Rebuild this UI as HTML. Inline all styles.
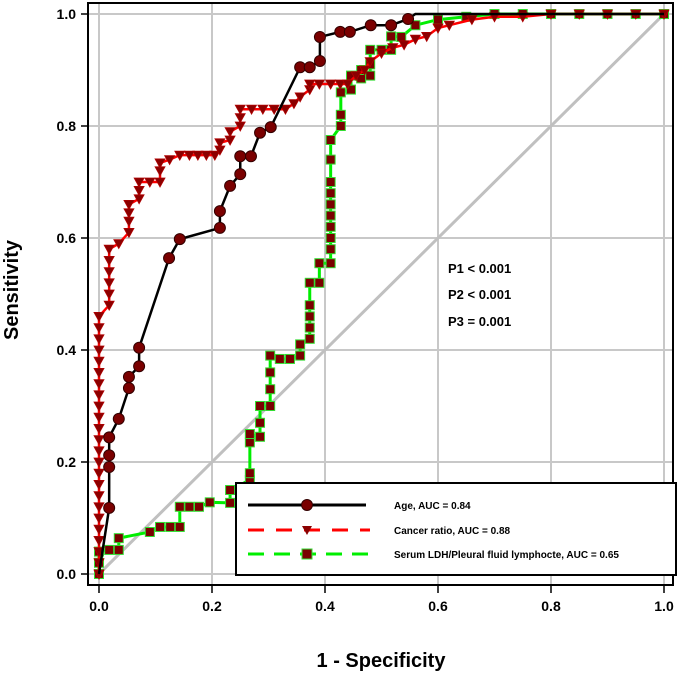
<!DOCTYPE html>
<html><head><meta charset="utf-8"><style>
body{margin:0;background:#fff;}
svg text{font-family:"Liberation Sans",Arial,sans-serif;font-weight:bold;}
</style></head><body>
<svg id="chart" width="685" height="677" xmlns="http://www.w3.org/2000/svg"></svg>
<script>
const xTicks=[0,0.2,0.4,0.6,0.8,1.0];
const yTicks=[0,0.2,0.4,0.6,0.8,1.0];
const tickLabels=["0.0","0.2","0.4","0.6","0.8","1.0"];
const ageX=[0,0.018,0.018,0.018,0.018,0.035,0.053,0.053,0.071,0.071,0.124,0.143,0.214,0.214,0.232,0.25,0.25,0.269,0.285,0.304,0.356,0.373,0.391,0.391,0.427,0.444,0.481,0.517,0.547,0.56,0.6,1.0];
const ageY=[0,0.118,0.191,0.212,0.244,0.277,0.332,0.352,0.371,0.404,0.564,0.598,0.618,0.648,0.693,0.714,0.746,0.746,0.788,0.798,0.905,0.905,0.916,0.959,0.968,0.968,0.98,0.98,0.991,1.0,1.0,1.0];
const cancerX=[0,0,0,0,0,0,0,0,0,0,0,0,0,0,0,0,0,0,0,0,0,0,0,0,0.018,0.018,0.018,0.018,0.018,0.018,0.035,0.053,0.053,0.053,0.053,0.071,0.071,0.071,0.09,0.108,0.108,0.108,0.125,0.143,0.16,0.175,0.19,0.205,0.214,0.214,0.232,0.232,0.25,0.25,0.25,0.27,0.29,0.31,0.33,0.345,0.356,0.373,0.373,0.39,0.41,0.427,0.44,0.455,0.47,0.48,0.5,0.52,0.54,0.56,0.58,0.6,0.62,0.66,0.7,0.75,0.8,0.85,0.9,0.95,1.0];
const cancerY=[0,0.02,0.04,0.06,0.08,0.10,0.12,0.14,0.16,0.18,0.20,0.22,0.24,0.26,0.28,0.30,0.32,0.34,0.36,0.38,0.40,0.42,0.44,0.46,0.48,0.50,0.52,0.54,0.56,0.58,0.59,0.61,0.63,0.645,0.66,0.67,0.685,0.70,0.70,0.70,0.72,0.734,0.74,0.748,0.748,0.748,0.748,0.748,0.757,0.77,0.775,0.79,0.80,0.815,0.83,0.83,0.83,0.83,0.83,0.84,0.852,0.865,0.875,0.875,0.875,0.875,0.875,0.89,0.90,0.915,0.93,0.94,0.945,0.955,0.96,0.975,0.98,0.99,0.995,0.995,1.0,1.0,1.0,1.0,1.0];
const ldhX=[0,0,0,0.018,0.035,0.035,0.09,0.108,0.126,0.143,0.143,0.16,0.177,0.196,0.232,0.232,0.267,0.267,0.267,0.267,0.285,0.285,0.285,0.303,0.303,0.303,0.303,0.32,0.338,0.356,0.356,0.373,0.373,0.373,0.373,0.373,0.39,0.39,0.41,0.41,0.41,0.41,0.41,0.41,0.41,0.41,0.41,0.41,0.428,0.428,0.428,0.446,0.446,0.464,0.464,0.48,0.48,0.48,0.5,0.517,0.517,0.535,0.56,0.6,0.65,0.7,0.75,0.8,0.85,0.9,0.95,1.0];
const ldhY=[0,0.02,0.04,0.043,0.043,0.064,0.075,0.084,0.084,0.084,0.12,0.12,0.12,0.128,0.127,0.15,0.168,0.18,0.235,0.25,0.245,0.27,0.30,0.30,0.33,0.36,0.39,0.384,0.384,0.39,0.41,0.42,0.44,0.46,0.48,0.52,0.52,0.555,0.555,0.58,0.60,0.62,0.64,0.66,0.68,0.70,0.74,0.775,0.80,0.82,0.86,0.865,0.89,0.885,0.90,0.89,0.91,0.936,0.936,0.936,0.96,0.959,0.98,0.99,0.995,1.0,1.0,1.0,1.0,1.0,1.0,1.0];

const NS="http://www.w3.org/2000/svg";
const svg=document.getElementById('chart');
const X0=99,XW=565,Y0=574,YH=560;
function sx(v){return X0+v*XW;}
function sy(v){return Y0-v*YH;}
function el(tag,attrs,parent){const e=document.createElementNS(NS,tag);for(const k in attrs)e.setAttribute(k,attrs[k]);(parent||svg).appendChild(e);return e;}

xTicks.forEach((t,i)=>{
  const g=el('line',{x1:sx(t),x2:sx(t),y1:3,y2:585,stroke:'#c8c8c8','stroke-width':2});
  
  
  const tk=el('line',{x1:sx(t),x2:sx(t),y1:585,y2:593,stroke:'#000','stroke-width':1.5});
  
  
  const tx=el('text',{x:sx(t),y:611,'text-anchor':'middle','font-size':14});
  tx.textContent=tickLabels[i];
  
  
});
yTicks.forEach((t,i)=>{
  const g=el('line',{x1:88,x2:673,y1:sy(t),y2:sy(t),stroke:'#c8c8c8','stroke-width':2});
  
  
  const tk=el('line',{x1:81,x2:88,y1:sy(t),y2:sy(t),stroke:'#000','stroke-width':1.5});
  
  
  const tx=el('text',{x:76,y:sy(t)+5,'text-anchor':'end','font-size':14});
  tx.textContent=tickLabels[i];
  
  
});
const dg=el('line',{x1:sx(0),y1:sy(0),x2:sx(1),y2:sy(1),stroke:'#c0c0c0','stroke-width':3});



function pts(xs,ys){return xs.map((x,i)=>sx(x)+','+sy(ys[i])).join(' ');}
const lg=el('polyline',{points:pts(ldhX,ldhY),fill:'none',stroke:'#00ee00','stroke-width':3});


ldhX.forEach((x,i)=>{
  const r=el('rect',{x:sx(x)-4.5,y:sy(ldhY[i])-4.5,width:9,height:9,fill:'#7a0000',stroke:'#33dd33','stroke-width':1});
  
  
});
const cl=el('polyline',{points:pts(cancerX,cancerY),fill:'none',stroke:'#ff0000','stroke-width':2.5});


cancerX.forEach((x,i)=>{
  const X=sx(x),Y=sy(cancerY[i]);
  const p=el('polygon',{points:`${X-5},${Y-4} ${X+5},${Y-4} ${X},${Y+5}`,fill:'#8b0000',stroke:'#b00000','stroke-width':0.8});
  
  
});
const al=el('polyline',{points:pts(ageX,ageY),fill:'none',stroke:'#000','stroke-width':2.5});


ageX.forEach((x,i)=>{
  if(i===0||i>=ageX.length-3)return;
  const c=el('circle',{cx:sx(x),cy:sy(ageY[i]),r:5.5,fill:'#7a0000',stroke:'#300','stroke-width':1});
  
  
});
const fr=el('rect',{x:88,y:3,width:585,height:582,fill:'none',stroke:'#000','stroke-width':2});


[["P1 < 0.001",273],["P2 < 0.001",299],["P3 = 0.001",326]].forEach(a=>{
  const t=el('text',{x:448,y:a[1],'font-size':13});t.textContent=a[0];
  
  
});
const lgd=el('g',{});


el('rect',{x:236,y:483,width:440,height:92,fill:'#fff',stroke:'#000','stroke-width':2},lgd);
el('line',{x1:248,x2:366,y1:505,y2:505,stroke:'#000','stroke-width':3},lgd);
el('circle',{cx:307,cy:505,r:5.5,fill:'#7a0000',stroke:'#300'},lgd);
el('line',{x1:248,x2:370,y1:530,y2:530,stroke:'#f00','stroke-width':3,'stroke-dasharray':'16,12'},lgd);
el('polygon',{points:'302,526 312,526 307,535',fill:'#8b0000'},lgd);
el('line',{x1:248,x2:372,y1:554,y2:554,stroke:'#0e0','stroke-width':3,'stroke-dasharray':'16,10'},lgd);
el('rect',{x:302,y:549,width:10,height:10,fill:'#7a0000',stroke:'#3d3'},lgd);
[["Age, AUC = 0.84",509],["Cancer ratio, AUC = 0.88",534],["Serum LDH/Pleural fluid lymphocte, AUC = 0.65",558]].forEach(a=>{
  const t=el('text',{x:394,y:a[1],'font-size':10},lgd);t.textContent=a[0];
  
  
});
const xt=el('text',{x:381,y:667,'text-anchor':'middle','font-size':20});xt.textContent='1 - Specificity';


const yt=el('text',{x:0,y:0,'text-anchor':'middle','font-size':20,transform:'translate(18,290) rotate(-90)'});yt.textContent='Sensitivity';


</script>
</body></html>
